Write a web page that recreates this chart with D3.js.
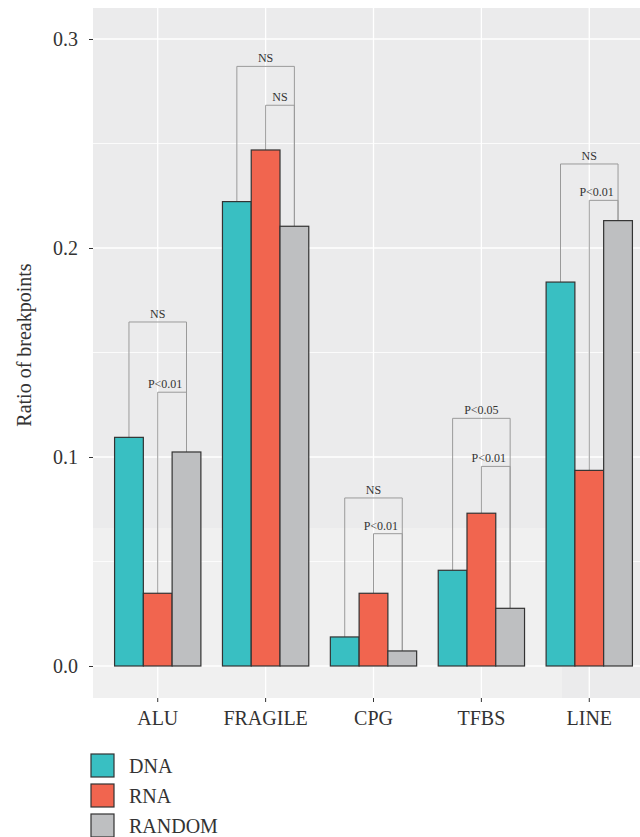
<!DOCTYPE html>
<html>
<head>
<meta charset="utf-8">
<script src="https://cdn.jsdelivr.net/npm/d3@7"></script>
<style>
  html, body { margin: 0; padding: 0; background: #ffffff; }
  svg { display: block; }
  text { font-family: "Liberation Serif", "DejaVu Serif", serif; fill: #333333; }
</style>
</head>
<body>
<script>
// ---------------- data ----------------
const categories = ["ALU", "FRAGILE", "CPG", "TFBS", "LINE"];
const seriesNames = ["DNA", "RNA", "RANDOM"];
const dnaValues    = [0.1094, 0.2222, 0.0139, 0.0458, 0.1837];
const rnaValues    = [0.0348, 0.2469, 0.0348, 0.0731, 0.0936];
const randomValues = [0.1024, 0.2104, 0.0072, 0.0276, 0.2131];
const yTicks = [0.0, 0.1, 0.2, 0.3];
const yMinorTicks = [0.05, 0.15, 0.25];
// significance brackets: outer = DNA vs RANDOM, inner = RNA vs RANDOM
const outerBracketY = [0.1646, 0.2869, 0.0804, 0.1185, 0.2402];
const innerBracketY = [0.1310, 0.2683, 0.0633, 0.0955, 0.2228];
const outerLabels = ["NS", "NS", "NS", "P<0.05", "NS"];
const innerLabels = ["P<0.01", "NS", "P<0.01", "P<0.01", "P<0.01"];
const yTitle = "Ratio of breakpoints";

// ---------------- layout / style ----------------
const W = 640, H = 837;
const panel = { left: 93, right: 654, top: 8, bottom: 698 };
const colors = { DNA: "#39bfc2", RNA: "#f1654f", RANDOM: "#bebfc1" };
const fontSize = 20;

const values = { DNA: dnaValues, RNA: rnaValues, RANDOM: randomValues };

const svg = d3.select("body").append("svg")
  .attr("width", W).attr("height", H);

const x = d3.scaleBand().domain(categories)
  .range([panel.left, panel.right])
  .paddingInner(0.2).paddingOuter(0.2);
const xs = d3.scaleBand().domain(seriesNames).range([0, x.bandwidth()]).padding(0);
const y = d3.scaleLinear().domain([0, 0.3]).range([666, 39]);
const cx = c => x(c) + x.bandwidth() / 2;
const bx = (c, s) => x(c) + xs(s) + xs.bandwidth() / 2;

// panel background
svg.append("rect")
  .attr("x", panel.left).attr("y", panel.top)
  .attr("width", panel.right - panel.left).attr("height", panel.bottom - panel.top)
  .attr("fill", "#ebebec");
// lighter lower region present in the reference picture
svg.append("rect")
  .attr("x", panel.left).attr("y", 528)
  .attr("width", 562 - panel.left).attr("height", panel.bottom - 528)
  .attr("fill", "#f0f0f0");

// grid
const grid = svg.append("g");
grid.selectAll("line.minor").data(yMinorTicks).join("line")
  .attr("x1", panel.left).attr("x2", panel.right)
  .attr("y1", d => y(d)).attr("y2", d => y(d))
  .attr("stroke", "#ffffff").attr("stroke-width", 0.8);
grid.selectAll("line.major").data(yTicks).join("line")
  .attr("x1", panel.left).attr("x2", panel.right)
  .attr("y1", d => y(d)).attr("y2", d => y(d))
  .attr("stroke", "#ffffff").attr("stroke-width", 1.3);
grid.selectAll("line.vert").data(categories).join("line")
  .attr("x1", d => cx(d)).attr("x2", d => cx(d))
  .attr("y1", panel.top).attr("y2", panel.bottom)
  .attr("stroke", "#ffffff").attr("stroke-width", 1.3);

// brackets (drawn before bars)
const br = svg.append("g").attr("fill", "none").attr("stroke", "#9a9a9a").attr("stroke-width", 1);
categories.forEach((c, i) => {
  const xd = bx(c, "DNA"), xr = bx(c, "RNA"), xn = bx(c, "RANDOM");
  const yo = y(outerBracketY[i]), yi = y(innerBracketY[i]);
  br.append("path").attr("d",
    `M${xd},${y(dnaValues[i])}V${yo}H${xn}V${y(randomValues[i])}`);
  br.append("path").attr("d",
    `M${xr},${y(rnaValues[i])}V${yi}H${xn}V${y(randomValues[i])}`);
});

// bars
const bars = svg.append("g");
seriesNames.forEach(s => {
  bars.selectAll(null).data(categories).join("rect")
    .attr("x", c => x(c) + xs(s))
    .attr("width", xs.bandwidth())
    .attr("y", (c, i) => y(values[s][i]))
    .attr("height", (c, i) => y(0) - y(values[s][i]))
    .attr("fill", colors[s])
    .attr("stroke", "#333333").attr("stroke-width", 1.2);
});

// bracket labels
const lab = svg.append("g").attr("font-size", 12).attr("text-anchor", "middle");
categories.forEach((c, i) => {
  const xd = bx(c, "DNA"), xr = bx(c, "RNA"), xn = bx(c, "RANDOM");
  lab.append("text").attr("x", (xd + xn) / 2).attr("y", y(outerBracketY[i]) - 4)
    .text(outerLabels[i]);
  lab.append("text")
    .attr("x", (xr + xn) / 2 + (innerLabels[i].startsWith("P") ? -7 : 0))
    .attr("y", y(innerBracketY[i]) - 4)
    .text(innerLabels[i]);
});

// y axis
const yAxis = d3.axisLeft(y).tickValues(yTicks).tickFormat(d3.format(".1f"))
  .tickSize(4).tickPadding(11);
const gy = svg.append("g").attr("transform", `translate(${panel.left},0)`).call(yAxis);
gy.select(".domain").remove();
gy.selectAll(".tick line").attr("stroke", "#333333");
gy.selectAll(".tick text").attr("font-size", fontSize)
  .attr("font-family", "Liberation Serif, DejaVu Serif, serif").attr("fill", "#333333");

// x axis
const xAxis = d3.axisBottom(x).tickSize(4).tickPadding(9);
const gx = svg.append("g").attr("transform", `translate(0,${panel.bottom})`).call(xAxis);
gx.select(".domain").remove();
gx.selectAll(".tick line").attr("stroke", "#333333");
gx.selectAll(".tick text").attr("font-size", fontSize)
  .attr("font-family", "Liberation Serif, DejaVu Serif, serif").attr("fill", "#333333");

// y title
svg.append("text")
  .attr("transform", `translate(31,345) rotate(-90)`)
  .attr("text-anchor", "middle").attr("font-size", 20)
  .text(yTitle);

// legend
const lg = svg.append("g").attr("transform", "translate(91,754)");
seriesNames.forEach((s, i) => {
  lg.append("rect").attr("x", 0).attr("y", i * 30).attr("width", 23).attr("height", 23)
    .attr("fill", colors[s]).attr("stroke", "#333333").attr("stroke-width", 1.2);
  lg.append("text").attr("x", 38).attr("y", i * 30 + 19).attr("font-size", 20).text(s);
});
</script>
</body>
</html>
